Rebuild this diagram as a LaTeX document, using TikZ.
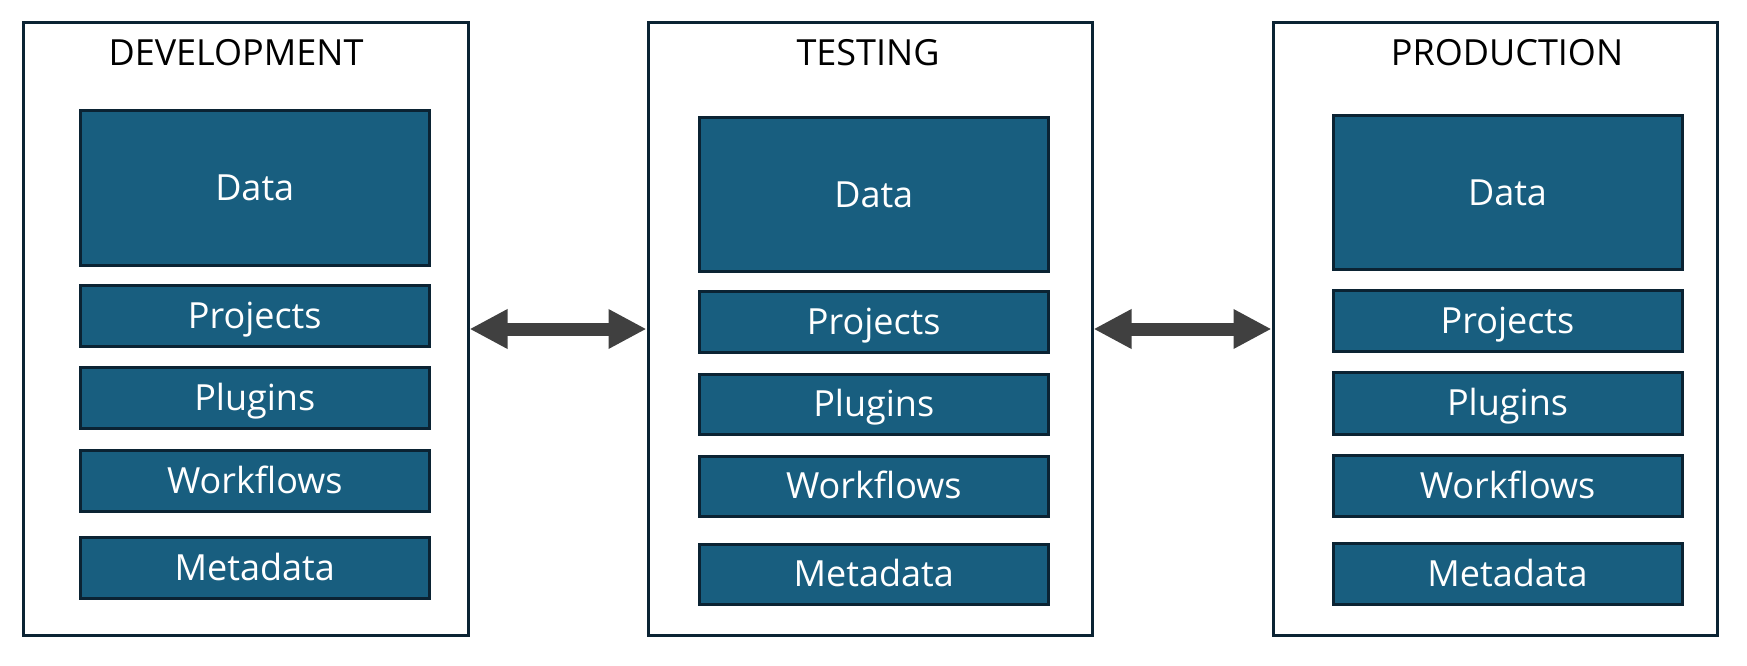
\documentclass[tikz,border=0pt]{standalone}
\usepackage{fontspec}
\setmainfont{Open Sans}
\usetikzlibrary{arrows.meta}
\definecolor{boxfill}{HTML}{185E7F}
\definecolor{boxline}{HTML}{0B2333}
\definecolor{arrowgray}{HTML}{404040}
\newcommand\mkbox[7]{%
  \node[#1, minimum width={(#4-#2)*1pt}, minimum height={(#5-#3)*1pt}] (#6) at ({(#2+#4)/2},{(#3+#5)/2}) {#7};}
\tikzset{
  envbox/.style={draw=boxline, line width=3pt, fill=white, inner sep=0pt},
  itembox/.style={draw=boxline, line width=3pt, fill=boxfill, text=white, inner sep=0pt,
    font=\fontsize{36}{40}\selectfont, text height=25.5pt, text depth=0pt},
  envtitle/.style={anchor=base, inner sep=0pt, text=black, font=\fontsize{36}{40}\selectfont},
  link/.style={draw=arrowgray, line width=13pt,
    {Triangle[length=38pt,width=37pt]}-{Triangle[length=38pt,width=37pt]}}
}
\begin{document}
\begin{tikzpicture}[x=1pt,y=-1pt]
\useasboundingbox (0,0) rectangle (1747,666);
% environments
\mkbox{envbox}{23}{23}{468}{635}{dev}{}
\mkbox{envbox}{648}{23}{1092}{635}{test}{}
\mkbox{envbox}{1273}{23}{1717}{635}{prod}{}
\node[envtitle] (devt) at (236,66) {DEVELOPMENT};
\node[envtitle] (testt) at (868,66) {TESTING};
\node[envtitle] (prodt) at (1507,66) {PRODUCTION};
% development items
\mkbox{itembox}{80.5}{111}{429}{265}{devdata}{Data}
\mkbox{itembox}{80.5}{285}{429}{346}{devproj}{Projects}
\mkbox{itembox}{80.5}{367}{429}{428}{devplug}{Plugins}
\mkbox{itembox}{80.5}{450}{429}{511}{devwork}{Workflows}
\mkbox{itembox}{80.5}{537}{429}{598}{devmeta}{Metadata}
% testing items
\mkbox{itembox}{699.5}{118}{1048}{271}{testdata}{Data}
\mkbox{itembox}{699.5}{291}{1048}{352}{testproj}{Projects}
\mkbox{itembox}{699.5}{374}{1048}{434}{testplug}{Plugins}
\mkbox{itembox}{699.5}{456}{1048}{516}{testwork}{Workflows}
\mkbox{itembox}{699.5}{544}{1048}{604}{testmeta}{Metadata}
% production items
\mkbox{itembox}{1333}{116}{1682}{269}{proddata}{Data}
\mkbox{itembox}{1333}{290}{1682}{351}{prodproj}{Projects}
\mkbox{itembox}{1333}{372}{1682}{434}{prodplug}{Plugins}
\mkbox{itembox}{1333}{455}{1682}{516}{prodwork}{Workflows}
\mkbox{itembox}{1333}{543}{1682}{604}{prodmeta}{Metadata}
% connectors
\draw[link] (dev.east) -- (test.west);
\draw[link] (test.east) -- (prod.west);
\end{tikzpicture}
\end{document}
